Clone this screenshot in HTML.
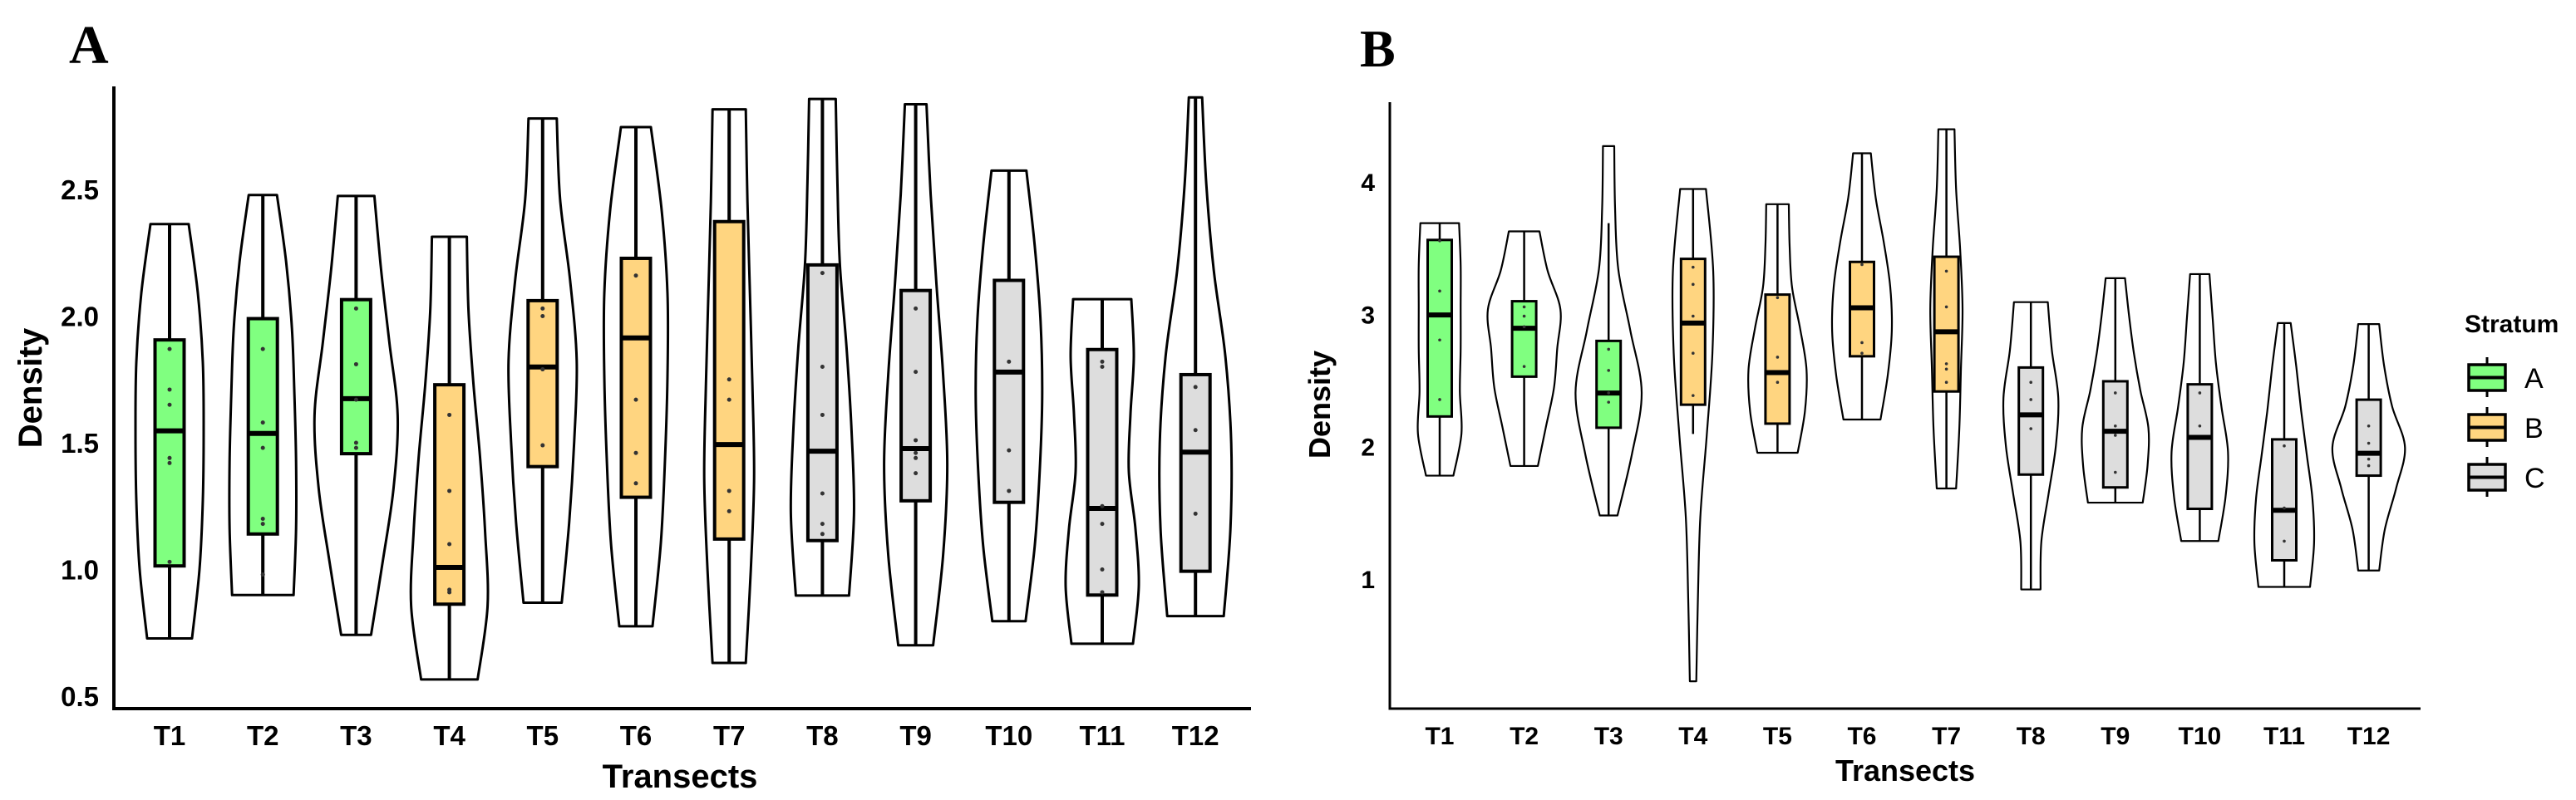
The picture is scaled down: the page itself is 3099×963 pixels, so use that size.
<!DOCTYPE html>
<html><head><meta charset="utf-8"><style>
html,body{margin:0;padding:0;background:#fff;}
svg{display:block;}
text{font-family:"Liberation Sans",sans-serif;}
</style></head><body>
<svg id="fig" width="3099" height="963" viewBox="0 0 3099 963" xmlns="http://www.w3.org/2000/svg">
<text x="83" y="76" font-family="Liberation Serif" font-weight="bold" font-size="66" style="font-family:'Liberation Serif',serif">A</text>
<text x="1636" y="80" font-family="Liberation Serif" font-weight="bold" font-size="64" style="font-family:'Liberation Serif',serif">B</text>
<g id="pa"></g>
<g id="pb"></g>
<g>
<text x="2965" y="400" font-weight="bold" font-size="30">Stratum</text>
<g>
<line x1="2992" y1="430" x2="2992" y2="478" stroke="#000" stroke-width="3"/>
<rect x="2970" y="439" width="44" height="31" fill="#80FF80" stroke="#000" stroke-width="3.5"/>
<line x1="2970" y1="454.5" x2="3014" y2="454.5" stroke="#000" stroke-width="4"/>
<text x="3037" y="467" font-size="34">A</text></g>
<g>
<line x1="2992" y1="490" x2="2992" y2="538" stroke="#000" stroke-width="3"/>
<rect x="2970" y="499" width="44" height="31" fill="#FFD580" stroke="#000" stroke-width="3.5"/>
<line x1="2970" y1="514.5" x2="3014" y2="514.5" stroke="#000" stroke-width="4"/>
<text x="3037" y="527" font-size="34">B</text></g>
<g>
<line x1="2992" y1="550" x2="2992" y2="598" stroke="#000" stroke-width="3"/>
<rect x="2970" y="559" width="44" height="31" fill="#DDDDDD" stroke="#000" stroke-width="3.5"/>
<line x1="2970" y1="574.5" x2="3014" y2="574.5" stroke="#000" stroke-width="4"/>
<text x="3037" y="587" font-size="34">C</text></g>
</g>
</svg>
<script>
const categories = ["T1","T2","T3","T4","T5","T6","T7","T8","T9","T10","T11","T12"];
const strata = ["A","A","A","B","B","B","B","C","C","C","C","C"];
// Panel A
const aTicks = [0.5,1.0,1.5,2.0,2.5];
const aTickLabels = ["0.5","1.0","1.5","2.0","2.5"];
const aMin = [0.728,0.899,0.742,0.566,0.869,0.776,0.631,0.897,0.701,0.796,0.707,0.816];
const aMax = [2.363,2.478,2.474,2.313,2.780,2.746,2.816,2.857,2.836,2.574,2.067,2.863];
const aQ1 = [1.014,1.140,1.457,0.863,1.406,1.285,1.120,1.114,1.271,1.265,0.899,0.993];
const aMed = [1.547,1.537,1.674,1.008,1.799,1.914,1.493,1.467,1.477,1.779,1.241,1.463];
const aQ3 = [1.906,1.990,2.065,1.729,2.061,2.228,2.373,2.202,2.101,2.141,1.868,1.769];
const aWidths = [
 [27,36,40,41,40,34,23],[37,40,40,38,35,28,17],[18,32,45,50,40,30,22],[34,46,43,37,29,23,21],
 [23,32,38,41,33,21,17],[20,30,35,38,38,31,18],[20,26,30,28,25,22,20],[32,38,35,29,21,18,16],
 [21,33,38,33,25,18,13],[20,31,37,40,38,31,21],[37,44,40,32,34,38,35],[34,42,43,36,22,13,8]];
const aPoints = [
 [1.87,1.71,1.65,1.44,1.42,1.03],[1.87,1.58,1.48,1.20,1.18,0.98],[2.03,1.81,1.67,1.50,1.48],
 [1.61,1.31,1.10,0.92,0.91],[2.03,2.00,1.79,1.49],[2.16,1.67,1.46,1.34],[1.75,1.67,1.31,1.23],
 [2.17,1.80,1.61,1.30,1.18,1.14],[2.03,1.78,1.51,1.46,1.44,1.38],[1.82,1.47,1.31],
 [1.82,1.80,1.25,1.18,1.00,0.91],[1.72,1.55,1.22]];
// Panel B
const bTicks = [1,2,3,4];
const bTickLabels = ["1","2","3","4"];
const bMin = [1.775,1.848,1.474,0.221,1.948,2.199,1.678,0.915,1.571,1.281,0.934,1.058];
const bMax = [3.683,3.621,4.265,3.941,3.826,4.211,4.392,3.086,3.267,3.298,2.928,2.920];
const bQ1 = [2.222,2.523,2.137,2.311,2.168,2.677,2.411,1.783,1.686,1.524,1.135,1.775];
const bMed = [2.989,2.889,2.399,2.928,2.554,3.043,2.862,2.234,2.110,2.064,1.513,1.944];
const bQ3 = [3.556,3.093,2.793,3.413,3.143,3.390,3.429,2.592,2.488,2.465,2.049,2.349];
const bWhiskLo = [1.775,1.848,1.474,2.090,1.948,2.199,1.678,0.915,1.571,1.281,0.934,1.058];
const bWhiskHi = [3.683,3.621,3.683,3.941,3.826,4.211,4.392,3.086,3.267,3.298,2.928,2.920];
const bWidths = [
 [17,27,25,26,26,26,24],[17,27,37,41,45,29,19],[11,29,41,27,12,8,7],[4,6,9,17,24,25,16],
 [25,34,36,28,18,15,14],[23,32,37,35,27,17,11],[12,16,18,20,17,12,10],[12,13,22,31,34,26,21],
 [34,40,41,31,23,17,12],[23,32,35,27,20,16,12],[32,37,35,28,21,15,8],[13,20,34,45,29,19,13]];
const bPoints = [
 [3.55,3.17,2.80,2.35],[3.05,2.98,2.90,2.60],[2.73,2.57,2.40,2.33],[3.35,3.22,2.98,2.70,2.38],
 [3.12,2.67,2.48],[3.37,2.78,2.70],[3.32,3.05,2.62,2.58,2.48],[2.48,2.35,2.13],[2.40,2.15,2.08,1.80],
 [2.40,2.15],[2.00,1.53,1.28],[2.15,2.02,1.90,1.85]];

const fills = {A:"#80FF80",B:"#FFD580",C:"#DDDDDD"};
const NS = "http://www.w3.org/2000/svg";
function mk(parent, tag, attrs){const e=document.createElementNS(NS,tag);for(const k in attrs)e.setAttribute(k,attrs[k]);parent.appendChild(e);return e;}

function smoothSide(pts){ // catmull-rom to bezier
  let d="";
  for(let i=0;i<pts.length-1;i++){
    const p0=pts[Math.max(0,i-1)],p1=pts[i],p2=pts[i+1],p3=pts[Math.min(pts.length-1,i+2)];
    const c1=[p1[0]+(p2[0]-p0[0])/6,p1[1]+(p2[1]-p0[1])/6];
    const c2=[p2[0]-(p3[0]-p1[0])/6,p2[1]-(p3[1]-p1[1])/6];
    d+=` C${c1[0]},${c1[1]} ${c2[0]},${c2[1]} ${p2[0]},${p2[1]}`;
  }
  return d;
}

function drawPanel(g, cfg){
  const y = v => cfg.y0 - (v - cfg.v0)*cfg.k;
  const x = i => cfg.x0 + i*cfg.dx;
  // axes
  let e;
  e=mk(g,"line",{x1:cfg.axX,y1:cfg.axTop,x2:cfg.axX,y2:cfg.axY,stroke:"#000","stroke-width":cfg.axW});
  
  
  e=mk(g,"line",{x1:cfg.axX-cfg.axW/2,y1:cfg.axY,x2:cfg.axEnd,y2:cfg.axY,stroke:"#000","stroke-width":cfg.axW});
  
  
  cfg.ticks.forEach((t,i)=>{
    const tx=mk(g,"text",{x:cfg.axX-cfg.tickGap,y:y(t)+12,"text-anchor":"end","font-weight":"bold","font-size":cfg.tickFs});
    tx.textContent=cfg.tickLabels[i];
    
    
  });
  categories.forEach((c,i)=>{
    const tx=mk(g,"text",{x:x(i),y:cfg.xLabY,"text-anchor":"middle","font-weight":"bold","font-size":cfg.tickFs});
    tx.textContent=c;
    
    
  });
  let t=mk(g,"text",{x:cfg.xTitleX,y:cfg.xTitleY,"text-anchor":"middle","font-weight":"bold","font-size":cfg.titleFs});
  t.textContent="Transects";
  
  
  t=mk(g,"text",{x:0,y:0,"text-anchor":"middle","font-weight":"bold","font-size":cfg.titleFs,transform:`translate(${cfg.yTitleX},${cfg.yTitleY}) rotate(-90)`});
  t.textContent="Density";
  
  
  // violins + boxes
  categories.forEach((c,i)=>{
    const cx=x(i), mn=cfg.min[i], mx=cfg.max[i], W=cfg.widths[i], n=W.length;
    const grp=mk(g,"g",{});
    
    
    const lv=W.map((w,j)=>[w*cfg.ws, y(mn+(mx-mn)*j/(n-1))]);
    const right=lv.slice().reverse().map(p=>[cx+p[0],p[1]]); // top to bottom
    const left=lv.map(p=>[cx-p[0],p[1]]); // bottom to top
    let d=`M${right[0][0]},${right[0][1]}`+smoothSide(right)+` L${left[0][0]},${left[0][1]}`+smoothSide(left)+" Z";
    const vp=mk(grp,"path",{d:d,fill:"#fff",stroke:"#000","stroke-width":cfg.vW,"stroke-linejoin":"round"});
    
    
    const wl=cfg.wlo?cfg.wlo[i]:mn, wh=cfg.whi?cfg.whi[i]:mx;
    const wk=mk(grp,"line",{x1:cx,y1:y(wh),x2:cx,y2:y(wl),stroke:"#000","stroke-width":cfg.wW});
    
    
    const bx=mk(grp,"rect",{x:cx-cfg.bh,y:y(cfg.q3[i]),width:cfg.bh*2,height:y(cfg.q1[i])-y(cfg.q3[i]),fill:fills[strata[i]],stroke:"#000","stroke-width":cfg.bW});
    
    
    const md=mk(grp,"line",{x1:cx-cfg.bh,y1:y(cfg.med[i]),x2:cx+cfg.bh,y2:y(cfg.med[i]),stroke:"#000","stroke-width":cfg.mW});
    
    
    cfg.points[i].forEach(p=>{
      const pt=mk(grp,"circle",{cx:cx,cy:y(p),r:cfg.pr,fill:"#333"});
      
      
    });
  });
}

drawPanel(document.getElementById("pa"),{
  y0:838,v0:0.5,k:305,x0:204,dx:112.2,axX:137,axTop:104,axY:853,axEnd:1505,axW:4,
  ticks:aTicks,tickLabels:aTickLabels,tickGap:18,tickFs:33,xLabY:897,
  xTitleX:818,xTitleY:948,yTitleX:50,yTitleY:467,titleFs:40,
  min:aMin,max:aMax,q1:aQ1,med:aMed,q3:aQ3,widths:aWidths,points:aPoints,
  ws:1,vW:3,wW:4,bW:4,mW:6,bh:17.5,pr:2.5
});
drawPanel(document.getElementById("pb"),{
  y0:696,v0:1,k:159.3,x0:1732,dx:101.6,axX:1672,axTop:123,axY:853,axEnd:2912,axW:3,
  ticks:bTicks,tickLabels:bTickLabels,tickGap:18,tickFs:30,xLabY:896,
  xTitleX:2292,xTitleY:940,yTitleX:1600,yTitleY:487,titleFs:36,
  min:bMin,max:bMax,q1:bQ1,med:bMed,q3:bQ3,wlo:bWhiskLo,whi:bWhiskHi,widths:bWidths,points:bPoints,
  ws:0.97,vW:2.2,wW:2.5,bW:3,mW:6,bh:14.5,pr:1.8
});
</script>
</body></html>
